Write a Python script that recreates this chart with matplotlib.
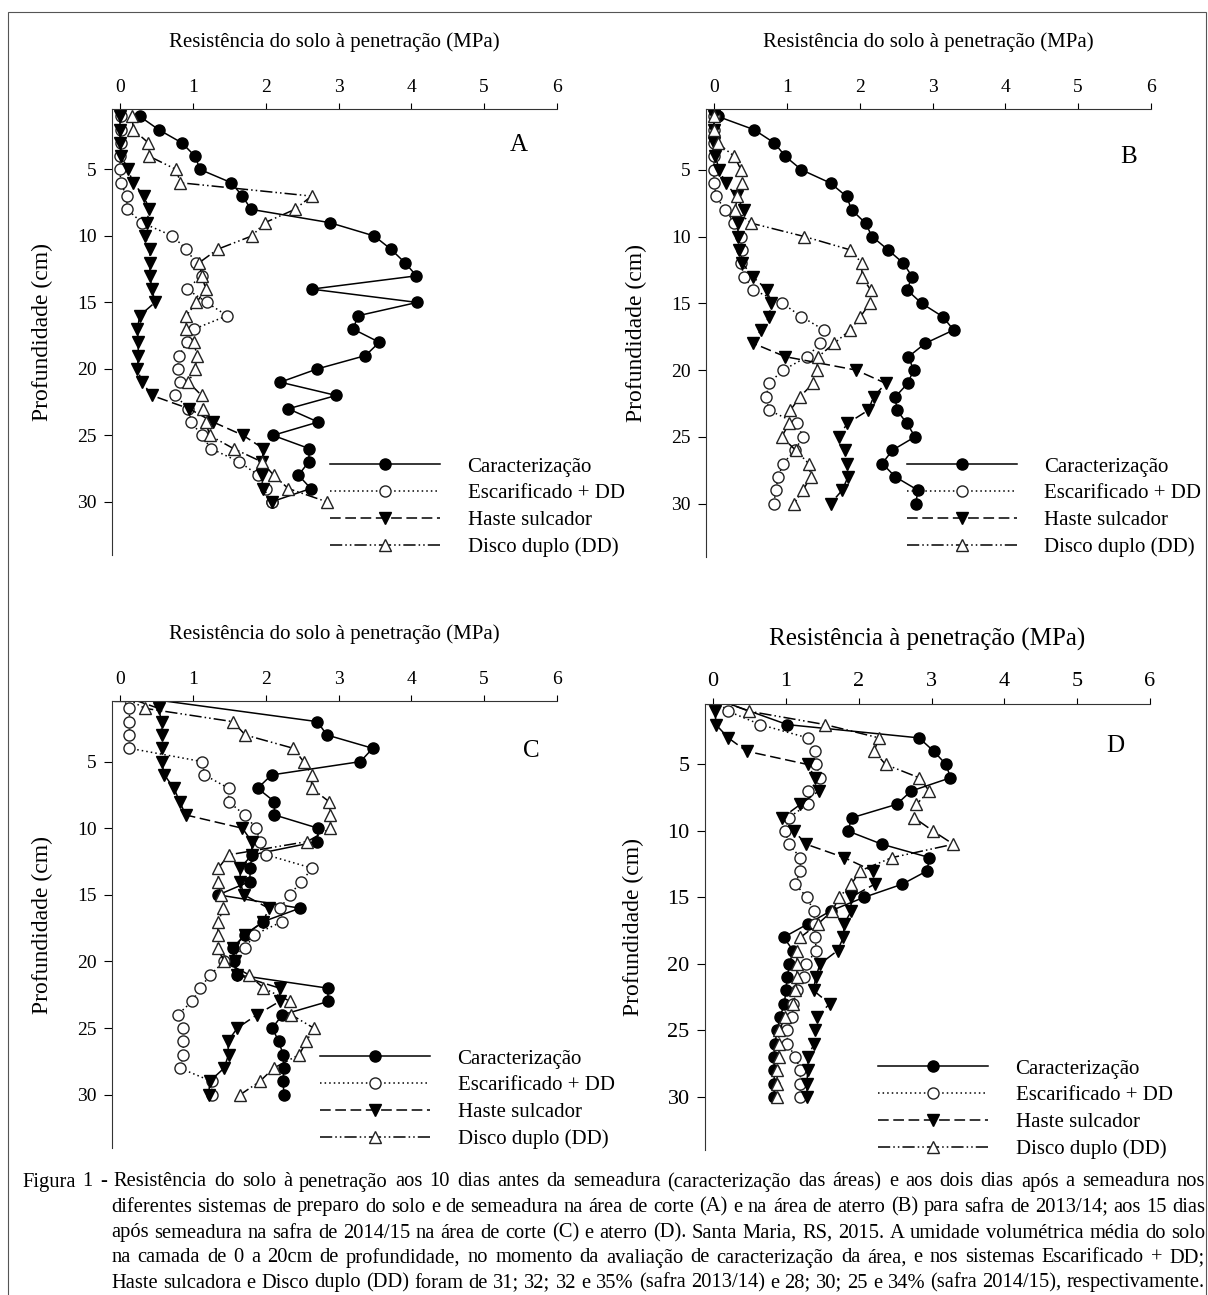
import numpy as np
import matplotlib
matplotlib.use('Agg')
import matplotlib.pyplot as plt
from matplotlib.patches import Rectangle

plt.rcParams['font.family'] = ['Liberation Serif', 'DejaVu Serif']

series_names = ['Caracterização', 'Escarificado + DD', 'Haste sulcador', 'Disco duplo (DD)']
x_ticks = [0, 1, 2, 3, 4, 5, 6]
y_ticks = [5, 10, 15, 20, 25, 30]

# depth (cm) - A,B start at 1 cm, C,D at the surface
depth_ab = list(range(1, 31))
depth_cd = list(range(0, 31))

# panel A - corte 2013/14
A_caract = [0.27, 0.53, 0.85, 1.03, 1.10, 1.53, 1.68, 1.80, 2.88, 3.49, 3.72, 3.91, 4.07, 2.63, 4.08,
            3.27, 3.20, 3.56, 3.37, 2.71, 2.20, 2.97, 2.31, 2.72, 2.10, 2.60, 2.59, 2.45, 2.62, 2.08]
A_escar = [0.02, 0.02, 0.02, 0.00, 0.00, 0.01, 0.09, 0.10, 0.30, 0.72, 0.91, 1.04, 1.12, 0.92, 1.19,
           1.47, 1.02, 0.92, 0.81, 0.79, 0.83, 0.76, 0.94, 0.98, 1.12, 1.25, 1.64, 1.90, 2.00, 2.08]
A_haste = [0.00, 0.00, 0.00, 0.02, 0.11, 0.18, 0.33, 0.40, 0.37, 0.34, 0.41, 0.41, 0.41, 0.44, 0.48,
           0.27, 0.24, 0.25, 0.25, 0.24, 0.30, 0.44, 0.95, 1.28, 1.69, 1.97, 1.95, 1.95, 1.97, 2.08]
A_disco = [0.17, 0.18, 0.39, 0.40, 0.77, 0.83, 2.63, 2.40, 1.99, 1.81, 1.34, 1.09, 1.12, 1.18, 1.05,
           0.91, 0.91, 1.01, 1.06, 1.03, 0.94, 1.12, 1.14, 1.18, 1.23, 1.56, 1.95, 2.11, 2.31, 2.84]

# panel B - aterro 2013/14
B_caract = [0.05, 0.55, 0.83, 0.98, 1.20, 1.60, 1.82, 1.89, 2.08, 2.17, 2.39, 2.60, 2.72, 2.65, 2.85,
            3.14, 3.29, 2.90, 2.67, 2.74, 2.66, 2.49, 2.51, 2.65, 2.76, 2.45, 2.31, 2.49, 2.80, 2.77]
B_escar = [0.00, 0.00, 0.00, 0.00, 0.00, 0.00, 0.03, 0.15, 0.28, 0.37, 0.38, 0.37, 0.41, 0.54, 0.94,
           1.20, 1.51, 1.46, 1.28, 0.95, 0.75, 0.72, 0.75, 1.14, 1.22, 1.11, 0.95, 0.88, 0.85, 0.82]
B_haste = [0.00, 0.00, 0.00, 0.02, 0.07, 0.16, 0.31, 0.41, 0.33, 0.33, 0.34, 0.39, 0.53, 0.73, 0.78,
           0.76, 0.64, 0.54, 0.98, 1.95, 2.36, 2.19, 2.12, 1.83, 1.71, 1.80, 1.83, 1.84, 1.76, 1.60]
B_disco = [0.00, 0.00, 0.05, 0.28, 0.37, 0.39, 0.32, 0.29, 0.51, 1.24, 1.87, 2.03, 2.03, 2.15, 2.14,
           2.01, 1.87, 1.65, 1.43, 1.41, 1.36, 1.18, 1.05, 1.03, 0.93, 1.12, 1.30, 1.33, 1.22, 1.10]

# panel C - corte 2014/15 (None = point not shown)
C_caract = [0, None, 2.71, 2.84, 3.47, 3.30, 2.08, 1.89, 2.12, 2.12, 2.72, 2.71, 1.81, 1.79, 1.78, 1.35,
            2.47, 1.97, 1.72, 1.55, 1.56, 1.60, 2.85, 2.86, 2.23, 2.09, 2.18, 2.24, 2.25, 2.24, 2.25]
C_escar = [0, 0.13, 0.13, 0.13, 0.13, 1.13, 1.16, 1.49, 1.49, 1.71, 1.87, 1.92, 2.01, 2.64, 2.49, 2.33,
           2.20, 2.23, 1.84, 1.72, 1.43, 1.24, 1.10, 0.99, 0.79, 0.87, 0.87, 0.87, 0.82, 1.26, 1.26]
C_haste = [0, 0.53, 0.57, 0.57, 0.57, 0.57, 0.61, 0.74, 0.82, 0.90, 1.68, 1.81, 1.81, 1.65, 1.65, 1.70,
           2.04, 1.97, 1.71, 1.55, 1.58, 1.61, 2.19, 2.19, 1.88, 1.61, 1.48, 1.49, 1.43, 1.23, 1.22]
C_disco = [0, 0.34, 1.55, 1.72, 2.38, 2.52, 2.63, 2.63, 2.87, 2.89, 2.89, 2.57, 1.49, 1.35, 1.35, 1.38,
           1.42, 1.35, 1.34, 1.34, 1.43, 1.77, 1.97, 2.34, 2.35, 2.66, 2.56, 2.46, 2.11, 1.92, 1.65]

# panel D - aterro 2014/15
D_caract = [0, None, 1.02, 2.83, 3.03, 3.20, 3.26, 2.72, 2.52, 1.91, 1.85, 2.32, 2.97, 2.94, 2.60, 2.07,
            1.62, 1.30, 0.97, 1.10, 1.05, 1.02, 1.00, 0.98, 0.92, 0.88, 0.85, 0.84, 0.84, 0.84, 0.84]
D_escar = [0, 0.21, 0.65, 1.30, 1.40, 1.42, 1.47, 1.31, 1.30, 1.04, 0.99, 1.04, 1.20, 1.20, 1.13, 1.29,
           1.38, 1.40, 1.40, 1.42, 1.28, 1.25, 1.15, 1.10, 1.09, 1.02, 1.02, 1.13, 1.20, 1.20, 1.20]
D_haste = [0, 0.03, 0.04, 0.21, 0.46, 1.30, 1.40, 1.45, 1.20, 0.95, 1.11, 1.28, 1.80, 2.19, 2.22, 1.89,
           1.90, 1.80, 1.79, 1.71, 1.47, 1.41, 1.38, 1.60, 1.43, 1.40, 1.39, 1.30, 1.30, 1.29, 1.29]
D_disco = [0, 0.50, 1.54, 2.28, 2.21, 2.37, 2.83, 2.97, 2.79, 2.76, 3.02, 3.30, 2.46, 2.02, 1.90, 1.73,
           1.64, 1.44, 1.20, 1.16, 1.15, 1.15, 1.13, 1.10, 0.99, 0.91, 0.90, 0.91, 0.88, 0.88, 0.88]

caption = [
    "Figura 1 - Resistência do solo à penetração aos 10 dias antes da semeadura (caracterização das áreas) e aos dois dias após a semeadura nos",
    "diferentes sistemas de preparo do solo e de semeadura na área de corte (A) e na área de aterro (B) para safra de 2013/14; aos 15 dias",
    "após semeadura na safra de 2014/15 na área de corte (C) e aterro (D). Santa Maria, RS, 2015. A umidade volumétrica média do solo",
    "na camada de 0 a 20cm de profundidade, no momento da avaliação de caracterização da área, e nos sistemas Escarificado + DD;",
    "Haste sulcadora e Disco duplo (DD) foram de 31; 32; 32 e 35% (safra 2013/14) e 28; 30; 25 e 34% (safra 2014/15), respectivamente.",
]

styles = [
    dict(color='black', ls='-', marker='o', mfc='black', mec='black'),
    dict(color='black', ls=(0, (1, 2)), marker='o', mfc='white', mec='#222222'),
    dict(color='black', ls=(0, (7, 3)), marker='v', mfc='black', mec='black'),
    dict(color='black', ls=(0, (8, 2, 1, 2, 1, 2)), marker='^', mfc='white', mec='#222222'),
]

W, H = 1208, 1295


def fbox(l, t, r, b):
    return [l / W, 1 - b / H, (r - l) / W, (b - t) / H]


fig = plt.figure(figsize=(W / 100, H / 100), dpi=100)

panels = [
    dict(rect=fbox(112, 109, 557, 555), depth=depth_ab, data=[A_caract, A_escar, A_haste, A_disco],
         letter='A', lxy=(519, 145), xlabel='Resistência do solo à penetração (MPa)', xfs=15, tfs=14,
         lpad=23, leg=(330, 457)),
    dict(rect=fbox(706, 109, 1151, 557), depth=depth_ab, data=[B_caract, B_escar, B_haste, B_disco],
         letter='B', lxy=(1129, 157), xlabel='Resistência do solo à penetração (MPa)', xfs=15, tfs=14,
         lpad=23, leg=(907, 457)),
    dict(rect=fbox(112, 701, 557, 1148), depth=depth_cd, data=[C_caract, C_escar, C_haste, C_disco],
         letter='C', lxy=(531, 751), xlabel='Resistência do solo à penetração (MPa)', xfs=15, tfs=14,
         lpad=23, leg=(320, 1049)),
    dict(rect=fbox(705, 704, 1150, 1150), depth=depth_cd, data=[D_caract, D_escar, D_haste, D_disco],
         letter='D', lxy=(1115, 746), xlabel='Resistência à penetração (MPa)', xfs=18, tfs=16,
         lpad=19, leg=(878, 1059)),
]

for p in panels:
    ax = fig.add_axes(p['rect'])
    d = np.array(p['depth'], dtype=float)
    for vals, name, st in zip(p['data'], series_names, styles):
        v = np.array(vals, dtype=float)
        m = ~np.isnan(v)
        ax.plot(v[m], d[m], lw=1.1, ms=8, mew=1.0, label=name, **st)
    ax.set_xlim(-0.11, 6)
    ax.set_ylim(34, 0.45)
    ax.spines['right'].set_visible(False)
    ax.spines['bottom'].set_visible(False)
    ax.spines['top'].set_color('#333333')
    ax.spines['left'].set_color('#333333')
    ax.xaxis.tick_top()
    ax.xaxis.set_label_position('top')
    ax.set_xticks(x_ticks)
    ax.set_yticks(y_ticks)
    ax.tick_params(axis='x', direction='out', length=4.5, width=0.8, pad=5, labelsize=p['tfs'])
    ax.tick_params(axis='y', direction='out', length=6, width=0.8, pad=5, labelsize=p['tfs'])
    ax.set_xlabel(p['xlabel'], fontsize=p['xfs'], labelpad=p['lpad'])
    ax.set_ylabel('Profundidade (cm)', fontsize=17, labelpad=17)
    fig.text(p['lxy'][0] / W, 1 - p['lxy'][1] / H, p['letter'], fontsize=18, ha='center', va='center')
    ax.legend(loc='upper left', bbox_to_anchor=(p['leg'][0] / W, 1 - p['leg'][1] / H),
              bbox_transform=fig.transFigure, frameon=False, handlelength=5.3, handletextpad=1.3,
              labelspacing=0.35, borderpad=0, borderaxespad=0, numpoints=1, fontsize=15)

# caption, justified line by line
renderer = fig.canvas.get_renderer()
line_y = [1182, 1207, 1233, 1258, 1283]
for i, line in enumerate(caption):
    x0 = 22 if i == 0 else 111
    x1 = 1205
    words = line.split(' ')
    texts = [fig.text(0, 1 - line_y[i] / H, w, fontsize=14.8, ha='left', va='center') for w in words]
    widths = [t.get_window_extent(renderer).width for t in texts]
    gap = (x1 - x0 - sum(widths)) / (len(words) - 1)
    x = x0
    for t, w in zip(texts, widths):
        t.set_x(x / W)
        x += w + gap

fig.add_artist(Rectangle((8 / W, -0.01), (1206 - 8) / W, 1 - 12 / H + 0.01, transform=fig.transFigure,
                         fill=False, ec='#555555', lw=0.8))

fig.savefig('out.png', dpi=100)
